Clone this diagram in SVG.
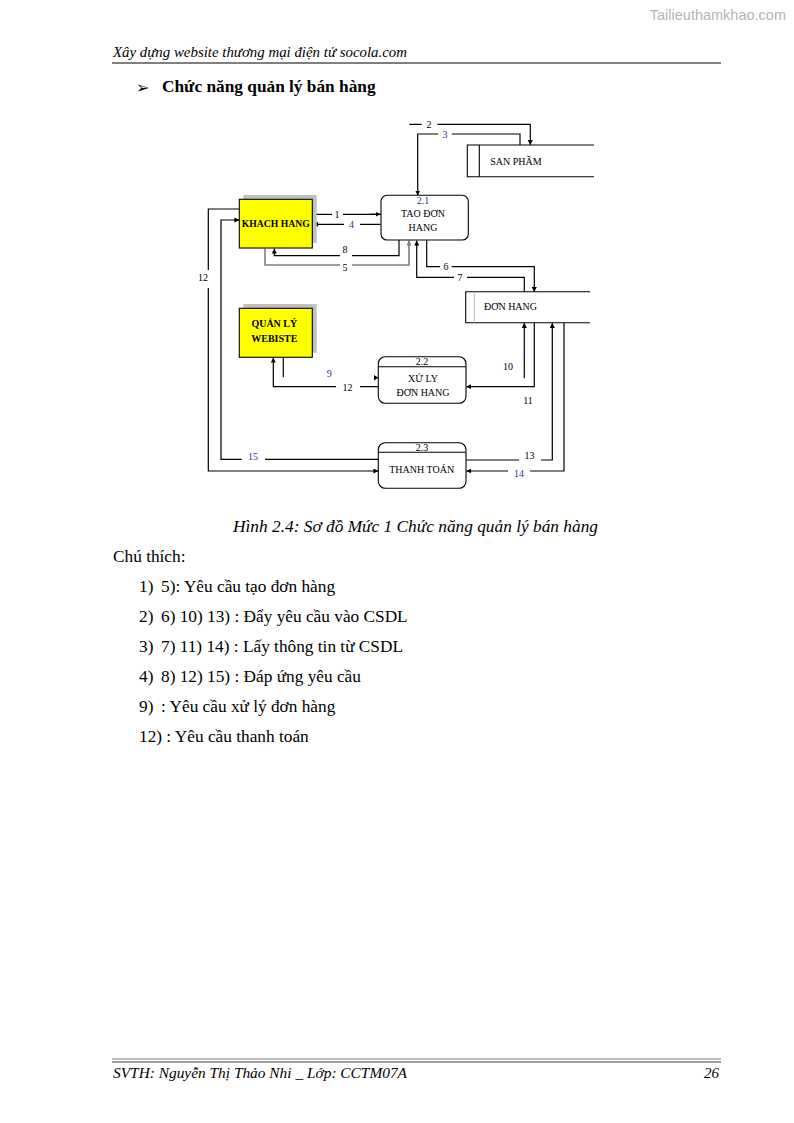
<svg xmlns="http://www.w3.org/2000/svg" width="794" height="1123" viewBox="0 0 794 1123">
<defs>
<marker id="ah" viewBox="0 0 6 6" refX="6" refY="3" markerWidth="5" markerHeight="5" orient="auto" markerUnits="userSpaceOnUse"><path d="M0,0 L6,3 L0,6 Z" fill="#000"/></marker>
<marker id="ahg" viewBox="0 0 6 6" refX="6" refY="3" markerWidth="5" markerHeight="5" orient="auto" markerUnits="userSpaceOnUse"><path d="M0,0 L6,3 L0,6 Z" fill="#777"/></marker>
</defs>
<style>
.pg{font-family:"Liberation Serif","Times New Roman",serif;fill:#000}
.it{font-style:italic}
.nd{font-family:"Liberation Serif","Times New Roman",serif;font-size:10px;fill:#000;text-anchor:middle}
.bd{font-weight:bold}
.lb{font-family:"Liberation Serif","Times New Roman",serif;font-size:10px;fill:#000;text-anchor:middle}
.bl{fill:#1d3a8a}
.ln{fill:none;stroke:#000;stroke-width:1.2}
.gl{fill:none;stroke:#808080;stroke-width:1.6}
.box{fill:#fff;stroke:#000;stroke-width:1.1}
.ext{fill:#ffff00;stroke:#000;stroke-width:1.1}
.sh{fill:#c0c0c0}
</style>
<rect width="794" height="1123" fill="#fff"/>
<text x="786" y="20" font-family="Liberation Sans,Arial,sans-serif" font-size="14.5" fill="#b4b4b4" text-anchor="end">Tailieuthamkhao.com</text>
<text class="pg it" x="113" y="57" font-size="15" textLength="294" lengthAdjust="spacingAndGlyphs">Xây dựng website thương mại điện tử  socola.com</text>
<line x1="112" y1="63" x2="721" y2="63" stroke="#7f7f7f" stroke-width="2"/>
<text x="136" y="93" font-family="DejaVu Sans,sans-serif" font-size="16" fill="#000">➢</text>
<text class="pg bd" x="162" y="92" font-size="17.3">Chức năng quản lý bán hàng</text>

<g id="connectors">
<path class="ln" d="M313,214.3 H332 M343,214.3 H380.5" />
<path class="ln" d="M370,214.3 H380.5" marker-end="url(#ah)"/>
<path class="ln" d="M380.5,224.3 H360 M344,224.3 H313" marker-end="url(#ah)"/>
<path class="ln" d="M409.3,124.3 H421.7 M437.3,124.3 H530.3 V145" marker-end="url(#ah)"/>
<path class="ln" d="M520,145 V134 H451.7 M438,134 H417.7 V195.5" marker-end="url(#ah)"/>
<path class="ln" d="M399,240 V255.7 H352 M340,255.7 H274.3 V248.5" marker-end="url(#ah)"/>
<path class="gl" d="M265,248.5 V265 H340 M352,265 H409 V240.5" marker-end="url(#ahg)"/>
<path class="ln" d="M426.7,240 V266.7 H440 M451.7,266.7 H534.3 V292" marker-end="url(#ah)"/>
<path class="ln" d="M524.3,291.7 V277.3 H467 M454,277.3 H416.7 V240.5" marker-end="url(#ah)"/>
<path class="ln" d="M239.3,209 H208.3 V270 M208.3,288 V471 H378.3" marker-end="url(#ah)"/>
<path class="ln" d="M378.3,459.3 H265 M241.7,459.3 H221 V220 H239.3" marker-end="url(#ah)"/>
<path class="ln" d="M524.3,378.3 V323" marker-end="url(#ah)"/>
<path class="ln" d="M534.3,322.7 V386.7 H466.3" marker-end="url(#ah)"/>
<path class="ln" d="M283.3,357.3 V377.3"/>
<path d="M374,375 L378.3,377.7 L374,380.4 Z" fill="#000"/>
<path class="ln" d="M378.3,386.7 H360 M336,386.7 H273.3 V357.6" marker-end="url(#ah)"/>
<path class="ln" d="M466,460 H519 M541,460 H552.3 V323" marker-end="url(#ah)"/>
<path class="ln" d="M564,322.7 V471 H530 M508,471 H466.3" marker-end="url(#ah)"/>
</g>

<g id="labels">
<text class="lb" x="337" y="217.5">1</text>
<text class="lb bl" x="351.5" y="227.5">4</text>
<text class="lb" x="429" y="127.5">2</text>
<text class="lb bl" x="445" y="137.5">3</text>
<text class="lb" x="345" y="253">8</text>
<text class="lb" x="345" y="271">5</text>
<text class="lb" x="446" y="270">6</text>
<text class="lb" x="460" y="280.5">7</text>
<text class="lb" x="203" y="280.5">12</text>
<text class="lb bl" x="253" y="459.5">15</text>
<text class="lb" x="508" y="369.5">10</text>
<text class="lb" x="528" y="403.5">11</text>
<text class="lb bl" x="329.3" y="377">9</text>
<text class="lb" x="347.5" y="390.5">12</text>
<text class="lb" x="529.5" y="458.5">13</text>
<text class="lb bl" x="519" y="476.5">14</text>
</g>

<g id="khach-hang">
<rect class="sh" x="243.3" y="195" width="73.4" height="48"/>
<rect class="ext" x="239.3" y="199.3" width="73" height="48.7"/>
<text class="nd bd" x="275.8" y="227" font-size="9.5" textLength="68" lengthAdjust="spacingAndGlyphs">KHACH HANG</text>
</g>

<g id="quan-ly-website">
<rect class="sh" x="243.3" y="304" width="73.4" height="48.7"/>
<rect class="ext" x="239.3" y="308.3" width="73" height="49"/>
<text class="nd bd" x="274.3" y="326.5" font-size="9.5">QUẢN LÝ</text>
<text class="nd bd" x="274.3" y="341.5" font-size="9.5">WEBISTE</text>
</g>

<g id="san-pham">
<path class="box" d="M594,145 H467.3 V176.7 H594"/>
<line x1="479.3" y1="145" x2="479.3" y2="176.7" stroke="#000" stroke-width="1.1"/>
<text class="nd" x="516" y="165" font-size="9.5">SAN PHẦM</text>
</g>

<g id="don-hang">
<path class="box" d="M590,291.7 H465.7 V322.7 H590"/>
<line x1="474.3" y1="291.7" x2="474.3" y2="322.7" stroke="#bbb" stroke-width="1"/>
<text class="nd" x="510.5" y="309.5" font-size="9.5">ĐƠN HANG</text>
</g>

<g id="p2-1">
<rect class="box" x="381" y="195.3" width="87.3" height="44.7" rx="6" ry="6"/>
<text class="nd bl" x="423" y="203.5">2.1</text>
<text class="nd" x="423" y="217">TAO ĐƠN</text>
<text class="nd" x="423" y="231">HANG</text>
</g>

<g id="p2-2">
<rect class="box" x="378.3" y="356.7" width="87.7" height="46.6" rx="7" ry="7"/>
<line x1="378.3" y1="366.7" x2="466" y2="366.7" stroke="#000" stroke-width="1.1"/>
<text class="nd" x="422" y="364.5">2.2</text>
<text class="nd" x="423" y="382">XỬ LY</text>
<text class="nd" x="423" y="395.5">ĐƠN HANG</text>
</g>

<g id="p2-3">
<rect class="box" x="378.3" y="442.7" width="87.7" height="45.6" rx="7" ry="7"/>
<line x1="378.3" y1="452.3" x2="466" y2="452.3" stroke="#000" stroke-width="1.1"/>
<text class="nd" x="422" y="450.5">2.3</text>
<text class="nd" x="421.7" y="472.5">THANH TOÁN</text>
</g>

<text class="pg it" x="233" y="532" font-size="17.3" textLength="365" lengthAdjust="spacingAndGlyphs">Hình 2.4: Sơ đồ Mức 1 Chức năng quản lý bán hàng</text>
<text class="pg" x="113" y="562" font-size="17.3">Chú thích:</text>
<g class="pg" font-size="17.3">
<text x="139" y="592">1)</text><text x="161" y="592">5): Yêu cầu tạo đơn hàng</text>
<text x="139" y="622">2)</text><text x="161" y="622">6) 10) 13) : Đẩy yêu cầu vào CSDL</text>
<text x="139" y="652">3)</text><text x="161" y="652">7) 11) 14) : Lấy thông tin từ CSDL</text>
<text x="139" y="682">4)</text><text x="161" y="682">8) 12) 15) : Đáp ứng yêu cầu</text>
<text x="139" y="712">9)</text><text x="161" y="712">: Yêu cầu xử lý đơn hàng</text>
<text x="139" y="742">12) : Yêu cầu thanh toán</text>
</g>

<line x1="112" y1="1059" x2="721" y2="1059" stroke="#7f7f7f" stroke-width="1"/>
<line x1="112" y1="1062" x2="721" y2="1062" stroke="#7f7f7f" stroke-width="1.5"/>
<text class="pg it" x="113" y="1078" font-size="15" textLength="294" lengthAdjust="spacingAndGlyphs">SVTH: Nguyễn Thị Thảo Nhi _ Lớp: CCTM07A</text>
<text class="pg it" x="719" y="1078" font-size="15" text-anchor="end">26</text>
</svg>
